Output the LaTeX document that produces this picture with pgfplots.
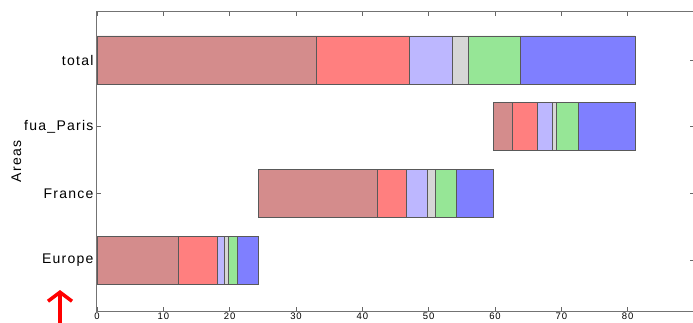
\documentclass[border=0pt]{standalone}
\usepackage{pgfplots}
\pgfplotsset{compat=1.18}
\usetikzlibrary{arrows.meta}
\usepackage{fontspec}
\setmainfont{Liberation Sans}
\newfontfamily\spaced[LetterSpace=9]{Liberation Sans}
\definecolor{c1}{HTML}{D48C8C}
\definecolor{c2}{HTML}{FF7F7F}
\definecolor{c3}{HTML}{BDB7FF}
\definecolor{c4}{HTML}{D6D6D6}
\definecolor{c5}{HTML}{96E696}
\definecolor{c6}{HTML}{7F7FFF}
\begin{document}
\begin{tikzpicture}
\begin{axis}[
  scale only axis,
  width=597pt, height=299pt,
  xbar stacked,
  bar width=48pt,
  xmin=0, xmax=90,
  ymin=-0.765, ymax=3.72,
  xtick={0,10,...,80},
  ytick={0,1,2,3},
  yticklabels={Europe,France,fua\_Paris,total},
  tick align=inside,
  tick pos=both,
  xticklabel pos=bottom,
  yticklabel pos=left,
  major tick length=4pt,
  tick style={black!60, line width=0.6pt},
  axis line style={black!55, line width=1pt},
  x tick label style={font=\spaced\fontsize{9.5}{10}\selectfont, inner sep=0pt, yshift=-2pt},
  y tick label style={font=\spaced\fontsize{14}{16}\selectfont},
  ylabel={Areas},
  ylabel style={font=\spaced\fontsize{14}{16}\selectfont},
  ylabel shift=-4pt,
  /pgf/number format/assume math mode=true,
  every axis plot/.append style={draw=black!65, line width=0.5pt},
]
% offset (invisible)
\addplot[draw=none, fill=none] coordinates {(0,0) (24.3,1) (59.8,2) (0,3)};
\addplot[fill=c1] coordinates {(12.2,0) (18.0,1) (2.8,2) (33.0,3)};
\addplot[fill=c2] coordinates {(5.9,0) (4.3,1) (3.8,2) (14.0,3)};
\addplot[fill=c3] coordinates {(1.1,0) (3.2,1) (2.2,2) (6.5,3)};
\addplot[fill=c4] coordinates {(0.6,0) (1.2,1) (0.7,2) (2.5,3)};
\addplot[fill=c5] coordinates {(1.4,0) (3.1,1) (3.3,2) (7.8,3)};
\addplot[fill=c6] coordinates {(3.1,0) (5.7,1) (8.5,2) (17.3,3)};
\end{axis}
\draw[red, line width=3.5pt, -{Straight Barb[length=9pt,width=24pt,line width=3.5pt]}]
  (current axis.south west) ++(-37pt,-12pt) -- ++(0pt,33pt);
\pgfresetboundingbox
\path (current axis.south west) ++(-97pt,-11pt) rectangle ++(693pt,322pt);
\end{tikzpicture}
\end{document}
